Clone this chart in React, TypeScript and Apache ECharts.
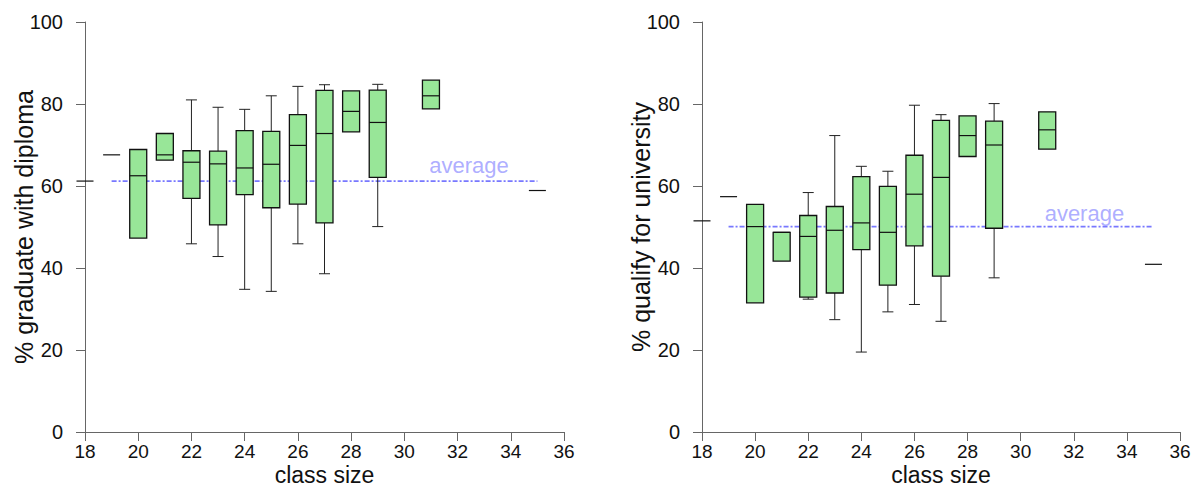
import React, { useEffect, useRef } from "react";
import * as echarts from "echarts";

// class sizes and box stats [min, Q1, median, Q3, max]
const classSizes = [18, 19, 20, 21, 22, 23, 24, 25, 26, 27, 28, 29, 31, 35];

const diplomaStats: number[][] = [
  [61.2, 61.2, 61.2, 61.2, 61.2],
  [67.6, 67.6, 67.6, 67.6, 67.6],
  [47.3, 47.3, 62.5, 68.9, 68.9],
  [66.3, 66.3, 67.6, 72.8, 72.8],
  [45.9, 57.0, 65.8, 68.6, 81.0],
  [42.8, 50.5, 65.4, 68.5, 79.2],
  [34.8, 57.9, 64.4, 73.5, 78.7],
  [34.3, 54.7, 65.3, 73.3, 82.0],
  [45.9, 55.6, 69.9, 77.4, 84.3],
  [38.6, 51.0, 72.8, 83.3, 84.7],
  [73.2, 73.2, 78.2, 83.2, 83.2],
  [50.1, 62.1, 75.5, 83.4, 84.8],
  [78.8, 78.8, 82.0, 85.8, 85.8],
  [58.9, 58.9, 58.9, 58.9, 58.9],
];

const universityStats: number[][] = [
  [51.5, 51.5, 51.5, 51.5, 51.5],
  [57.4, 57.4, 57.4, 57.4, 57.4],
  [31.5, 31.5, 50.1, 55.5, 55.5],
  [41.7, 41.7, 48.7, 48.7, 48.7],
  [32.4, 32.9, 47.7, 52.8, 58.4],
  [27.4, 33.9, 49.2, 55.0, 72.3],
  [19.5, 44.5, 51.0, 62.3, 64.8],
  [29.3, 35.8, 48.7, 59.9, 63.6],
  [31.1, 45.4, 58.0, 67.5, 79.7],
  [27.0, 38.0, 62.1, 76.0, 77.4],
  [67.2, 67.2, 72.3, 77.1, 77.1],
  [37.6, 49.7, 70.0, 75.8, 80.1],
  [69.0, 69.0, 73.7, 78.1, 78.1],
  [40.9, 40.9, 40.9, 40.9, 40.9],
];

const diplomaAverage = 61.2;
const universityAverage = 50.1;
const averageRange = [19, 35];
const averageLabelPos = [
  [32.43, 64.95],
  [32.4, 53.4],
];

const xTicks = { min: 18, max: 36, interval: 2 };
const yTicks = { min: 0, max: 100, interval: 20 };

const FONT = "Liberation Sans, Arial, sans-serif";
const BOX_FILL = "#98e698";
const AVG_COLOR = "#7878ff";
const AVG_TEXT = "#9999ff";

function renderBox(params: any, api: any) {
  const x = api.value(0);
  const lo = api.value(1);
  const q1 = api.value(2);
  const med = api.value(3);
  const q3 = api.value(4);
  const hi = api.value(5);
  const cx = api.coord([x, med])[0];
  const yLo = api.coord([x, lo])[1];
  const yQ1 = api.coord([x, q1])[1];
  const yMed = api.coord([x, med])[1];
  const yQ3 = api.coord([x, q3])[1];
  const yHi = api.coord([x, hi])[1];
  const hw = 8.5;
  const cw = 5.5;
  const lineStyle = { stroke: "#222", lineWidth: 1, fill: null };
  const children: any[] = [];
  if (hi > q3) {
    children.push({ type: "line", shape: { x1: cx, y1: yQ3, x2: cx, y2: yHi }, style: lineStyle });
    children.push({ type: "line", shape: { x1: cx - cw, y1: yHi, x2: cx + cw, y2: yHi }, style: lineStyle });
  }
  if (lo < q1) {
    children.push({ type: "line", shape: { x1: cx, y1: yQ1, x2: cx, y2: yLo }, style: lineStyle });
    children.push({ type: "line", shape: { x1: cx - cw, y1: yLo, x2: cx + cw, y2: yLo }, style: lineStyle });
  }
  if (q3 > q1) {
    children.push({
      type: "rect",
      shape: { x: cx - hw, y: yQ3, width: hw * 2, height: yQ1 - yQ3 },
      style: { fill: BOX_FILL, stroke: "#111", lineWidth: 1.3 },
    });
  }
  children.push({
    type: "line",
    shape: { x1: cx - hw, y1: yMed, x2: cx + hw, y2: yMed },
    style: { stroke: "#111", lineWidth: 1.2 },
  });
  return { type: "group", children };
}

function boxData(stats: number[][]) {
  return classSizes.map((c, i) => [c, ...stats[i]]);
}

const grids = [
  { left: 85, top: 22, width: 479, height: 410, outerBoundsMode: "none", containLabel: false },
  { left: 702, top: 22, width: 478, height: 410, outerBoundsMode: "none", containLabel: false },
];

export default function App() {
  const ref = useRef<HTMLDivElement>(null);
  useEffect(() => {
    if (!ref.current) return;
    const chart = echarts.init(ref.current, undefined, { renderer: "svg" });
    const yNames = ["% graduate with diploma", "% qualify for university"];
    const allStats = [diplomaStats, universityStats];
    const avgs = [diplomaAverage, universityAverage];
    const axisLine = { show: true, lineStyle: { color: "#666", width: 1 } };
    chart.setOption({
      animation: false,
      textStyle: { fontFamily: FONT },
      grid: grids,
      xAxis: [0, 1].map((i) => ({
        type: "value",
        gridIndex: i,
        min: xTicks.min,
        max: xTicks.max,
        interval: xTicks.interval,
        name: "class size",
        nameLocation: "middle",
        nameGap: 31,
        nameMoveOverlap: false,
        nameTextStyle: { fontSize: 23, lineHeight: 23, color: "#111", fontFamily: FONT },
        axisLine,
        axisTick: { show: true, length: 9, lineStyle: { color: "#666" } },
        axisLabel: { fontSize: 19, lineHeight: 19, color: "#111", margin: 10, fontFamily: FONT },
        splitLine: { show: false },
      })),
      yAxis: [0, 1].map((i) => ({
        type: "value",
        gridIndex: i,
        min: yTicks.min,
        max: yTicks.max,
        interval: yTicks.interval,
        name: yNames[i],
        nameLocation: "middle",
        nameGap: 49,
        nameMoveOverlap: false,
        nameTextStyle: { fontSize: 25, color: "#111", fontFamily: FONT },
        axisLine,
        axisTick: { show: true, length: 9, lineStyle: { color: "#666" } },
        axisLabel: { fontSize: 20, color: "#111", margin: 22, fontFamily: FONT },
        splitLine: { show: false },
      })),
      series: [0, 1].flatMap((i) => [
        {
          type: "line",
          xAxisIndex: i,
          yAxisIndex: i,
          data: averageRange.map((x) => [x, avgs[i]]),
          symbol: "none",
          lineStyle: { color: AVG_COLOR, width: 1.8, type: [5, 2, 2, 2] },
          z: 1,
        },
        {
          type: "custom",
          xAxisIndex: i,
          yAxisIndex: i,
          data: boxData(allStats[i]),
          renderItem: renderBox,
          z: 2,
        },
        {
          type: "scatter",
          xAxisIndex: i,
          yAxisIndex: i,
          data: [averageLabelPos[i]],
          symbolSize: 0,
          label: {
            show: true,
            formatter: "average",
            position: "inside",
            color: AVG_TEXT,
            fontSize: 22,
            fontFamily: FONT,
          },
          z: 3,
        },
      ]),
    });
    return () => chart.dispose();
  }, []);
  return (
    <div
      ref={ref}
      style={{ position: "fixed", left: 0, top: 0, width: 1198, height: 488, background: "#fff" }}
    />
  );
}
